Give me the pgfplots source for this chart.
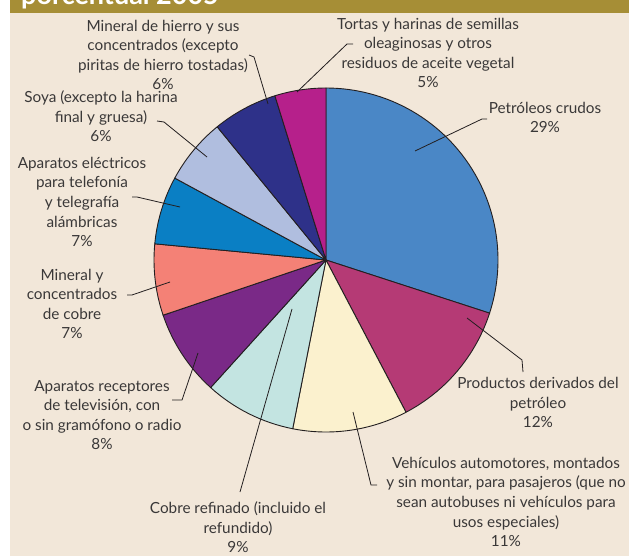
\documentclass[border=0pt]{standalone}
\usepackage{pgfplots}
\pgfplotsset{compat=1.18}
\usepackage{pgfplotstable}
\usepackage{fontspec}
\setmainfont{Lato}
\definecolor{bgbeige}{HTML}{F2E7D9}
\definecolor{band}{HTML}{A68E36}
\definecolor{txt}{HTML}{3A3838}
\definecolor{outl}{HTML}{231F20}
\definecolor{cPet}{HTML}{4A87C6}
\definecolor{cProd}{HTML}{B53A75}
\definecolor{cVeh}{HTML}{FBF1CE}
\definecolor{cCob}{HTML}{C3E4E1}
\definecolor{cTV}{HTML}{7A2987}
\definecolor{cMin}{HTML}{F48176}
\definecolor{cApa}{HTML}{0A7FC4}
\definecolor{cSoy}{HTML}{B0BEDF}
\definecolor{cHie}{HTML}{2E3189}
\definecolor{cTor}{HTML}{B6208B}

% shares as drawn (degrees = 3.6 * share), clockwise from 12 o'clock
\pgfplotstableread{
share color
30.0 cPet
12.3 cProd
10.8 cVeh
8.6 cCob
8.1 cTV
6.7 cMin
6.4 cApa
6.2 cSoy
6.1 cHie
4.8 cTor
}\piedata

\gdef\piecmds{}
\gdef\startang{90}
\pgfplotsforeachungrouped \i in {0,...,9}{%
  \pgfplotstablegetelem{\i}{share}\of\piedata
  \let\v\pgfplotsretval
  \pgfplotstablegetelem{\i}{color}\of\piedata
  \let\c\pgfplotsretval
  \pgfmathsetmacro\endang{\startang-3.6*\v}%
  \xdef\piecmds{\unexpanded\expandafter{\piecmds}%
    \noexpand\filldraw[fill=\c,draw=outl,line width=0.9pt,line join=round]
    (axis cs:326,260) -- ++(\startang:172pt)
    arc[start angle=\startang,end angle=\endang,radius=172pt] -- cycle;}%
  \global\let\startang\endang
}

\begin{document}
\begin{tikzpicture}
\begin{axis}[
  x=1pt, y=1pt,
  xmin=0, xmax=629, ymin=0, ymax=556,
  y dir=reverse,
  scale only axis, hide axis, clip=false,
]
% background
\fill[white] (axis cs:0,0) rectangle (axis cs:629,556);
\fill[bgbeige] (axis cs:10,12.7) rectangle (axis cs:629,556);
\fill[band] (axis cs:10,0) rectangle (axis cs:629,12.7);
\node[anchor=base west, text=white, inner sep=0pt, font=\fontsize{27}{30}\selectfont\bfseries] at (axis cs:21,4.5) {porcentual 2005};
% pie
\piecmds
% leader lines
\begin{scope}[draw=outl, line width=0.8pt]
\draw (axis cs:249,55) -- (axis cs:254,57) -- (axis cs:268,104);
\draw (axis cs:353,44) -- (axis cs:347,44) -- (axis cs:297,92);
\draw (axis cs:487,119) -- (axis cs:482,119) -- (axis cs:415,151);
\draw (axis cs:467,318) -- (axis cs:522,360) -- (axis cs:523,372);
\draw (axis cs:353,412) -- (axis cs:371,485) -- (axis cs:377,485);
\draw (axis cs:292,309) -- (axis cs:240,492);
\draw (axis cs:198,353) -- (axis cs:182,400) -- (axis cs:172,400);
\draw (axis cs:170,282) -- (axis cs:132,295) -- (axis cs:127,295);
\draw (axis cs:180,207) -- (axis cs:137,197) -- (axis cs:132,197);
\draw (axis cs:207,157) -- (axis cs:164,122) -- (axis cs:157,121);
\end{scope}
% labels
\begin{scope}[every node/.style={align=center, text=txt, inner sep=0pt, font=\fontsize{15.3}{19.6}\selectfont}]
\node at (axis cs:163,55) {Mineral de hierro y sus\\concentrados (excepto\\piritas de hierro tostadas)\\6\%};
\node at (axis cs:428,53) {Tortas y harinas de semillas\\oleaginosas y otros\\residuos de aceite vegetal\\5\%};
\node at (axis cs:545,117.5) {Petróleos crudos\\29\%};
\node at (axis cs:101,116.5) {Soya (excepto la harina\\final y gruesa)\\6\%};
\node at (axis cs:82,202) {Aparatos eléctricos\\para telefonía\\y telegrafía\\alámbricas\\7\%};
\node at (axis cs:72,304) {Mineral y\\concentrados\\de cobre\\7\%};
\node at (axis cs:102,415) {Aparatos receptores\\de televisión, con\\o sin gramófono o radio\\8\%};
\node at (axis cs:238,527.5) {Cobre refinado (incluido el\\refundido)\\9\%};
\node at (axis cs:506,502) {Vehículos automotores, montados\\y sin montar, para pasajeros (que no\\sean autobuses ni vehículos para\\usos especiales)\\11\%};
\node at (axis cs:538,402.5) {Productos derivados del\\petróleo\\12\%};
\end{scope}
\end{axis}
\pgfresetboundingbox
\useasboundingbox (current axis.south west) rectangle (current axis.north east);
\end{tikzpicture}
\end{document}
